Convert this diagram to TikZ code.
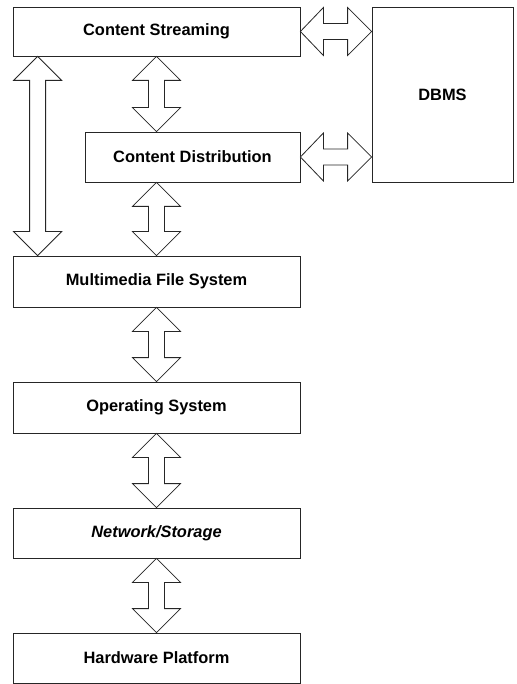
\documentclass[tikz,border=0pt]{standalone}
\usepackage{fontspec}
\setmainfont{Liberation Sans}
\usetikzlibrary{calc}

% Vertical double-headed block arrow between two points sharing an x position
\newcommand{\vblockarrow}[2]{%
  \draw[blockarrow] let \p1=(#1), \p2=(#2) in
    (\x1,\y1) -- (\x1+24pt,\y1-24pt) -- (\x1+8pt,\y1-24pt) -- (\x1+8pt,\y2+24pt)
    -- (\x1+24pt,\y2+24pt) -- (\x2,\y2) -- (\x1-24pt,\y2+24pt) -- (\x1-8pt,\y2+24pt)
    -- (\x1-8pt,\y1-24pt) -- (\x1-24pt,\y1-24pt) -- cycle;}
% Horizontal double-headed block arrow between two points sharing a y position
\newcommand{\hblockarrow}[2]{%
  \draw[blockarrow] let \p1=(#1), \p2=(#2) in
    (\x1,\y1) -- (\x1+23pt,\y1+24pt) -- (\x1+23pt,\y1+8pt) -- (\x2-24pt,\y1+8pt)
    -- (\x2-24pt,\y1+24pt) -- (\x2,\y2) -- (\x2-24pt,\y1-24pt) -- (\x2-24pt,\y1-8pt)
    -- (\x1+23pt,\y1-8pt) -- (\x1+23pt,\y1-24pt) -- cycle;}

\tikzset{
  layer/.style={draw=black!85, line width=0.8pt, fill=white, rectangle,
    inner sep=0pt, font=\fontsize{16.4}{19}\selectfont\bfseries},
  blockarrow/.style={draw=black!85, line width=0.8pt, fill=white, line join=miter}
}

\begin{document}
\begin{tikzpicture}[x=1pt,y=-1pt]
\useasboundingbox[fill=white] (0,0) rectangle (516,684);

\node[layer, minimum width=287pt, minimum height=49pt]  (cs)   at (156.5,31.5)  {Content Streaming};
\node[layer, minimum width=215pt, minimum height=50pt]  (cd)   at (192.5,157)   {Content Distribution};
\node[layer, minimum width=141pt, minimum height=175pt] (dbms) at (442.5,94.5)  {DBMS};
\node[layer, minimum width=287pt, minimum height=51pt]  (mfs)  at (156.5,281.5) {Multimedia File System};
\node[layer, minimum width=287pt, minimum height=51pt]  (os)   at (156.5,407.5) {Operating System};
\node[layer, minimum width=287pt, minimum height=50pt]  (ns)   at (156.5,533)   {\itshape Network/Storage};
\node[layer, minimum width=287pt, minimum height=50pt]  (hp)   at (156.5,658)   {Hardware Platform};

% Anchor points for the arrows
\coordinate (lefttop) at ($(cs.south west)+(25,0)$);
\coordinate (leftbot) at (lefttop |- mfs.north);
\coordinate (cdtop)   at (cs.south |- cd.north);
\coordinate (cdbot)   at (cs.south |- cd.south);
\coordinate (dbcs)    at (cs.east -| dbms.west);
\coordinate (dbcd)    at (cd.east -| dbms.west);

% Connections between layers
\vblockarrow{lefttop}{leftbot}
\vblockarrow{cs.south}{cdtop}
\vblockarrow{cdbot}{mfs.north}
\vblockarrow{mfs.south}{os.north}
\vblockarrow{os.south}{ns.north}
\vblockarrow{ns.south}{hp.north}
\hblockarrow{cs.east}{dbcs}
\hblockarrow{cd.east}{dbcd}
\end{tikzpicture}
\end{document}
